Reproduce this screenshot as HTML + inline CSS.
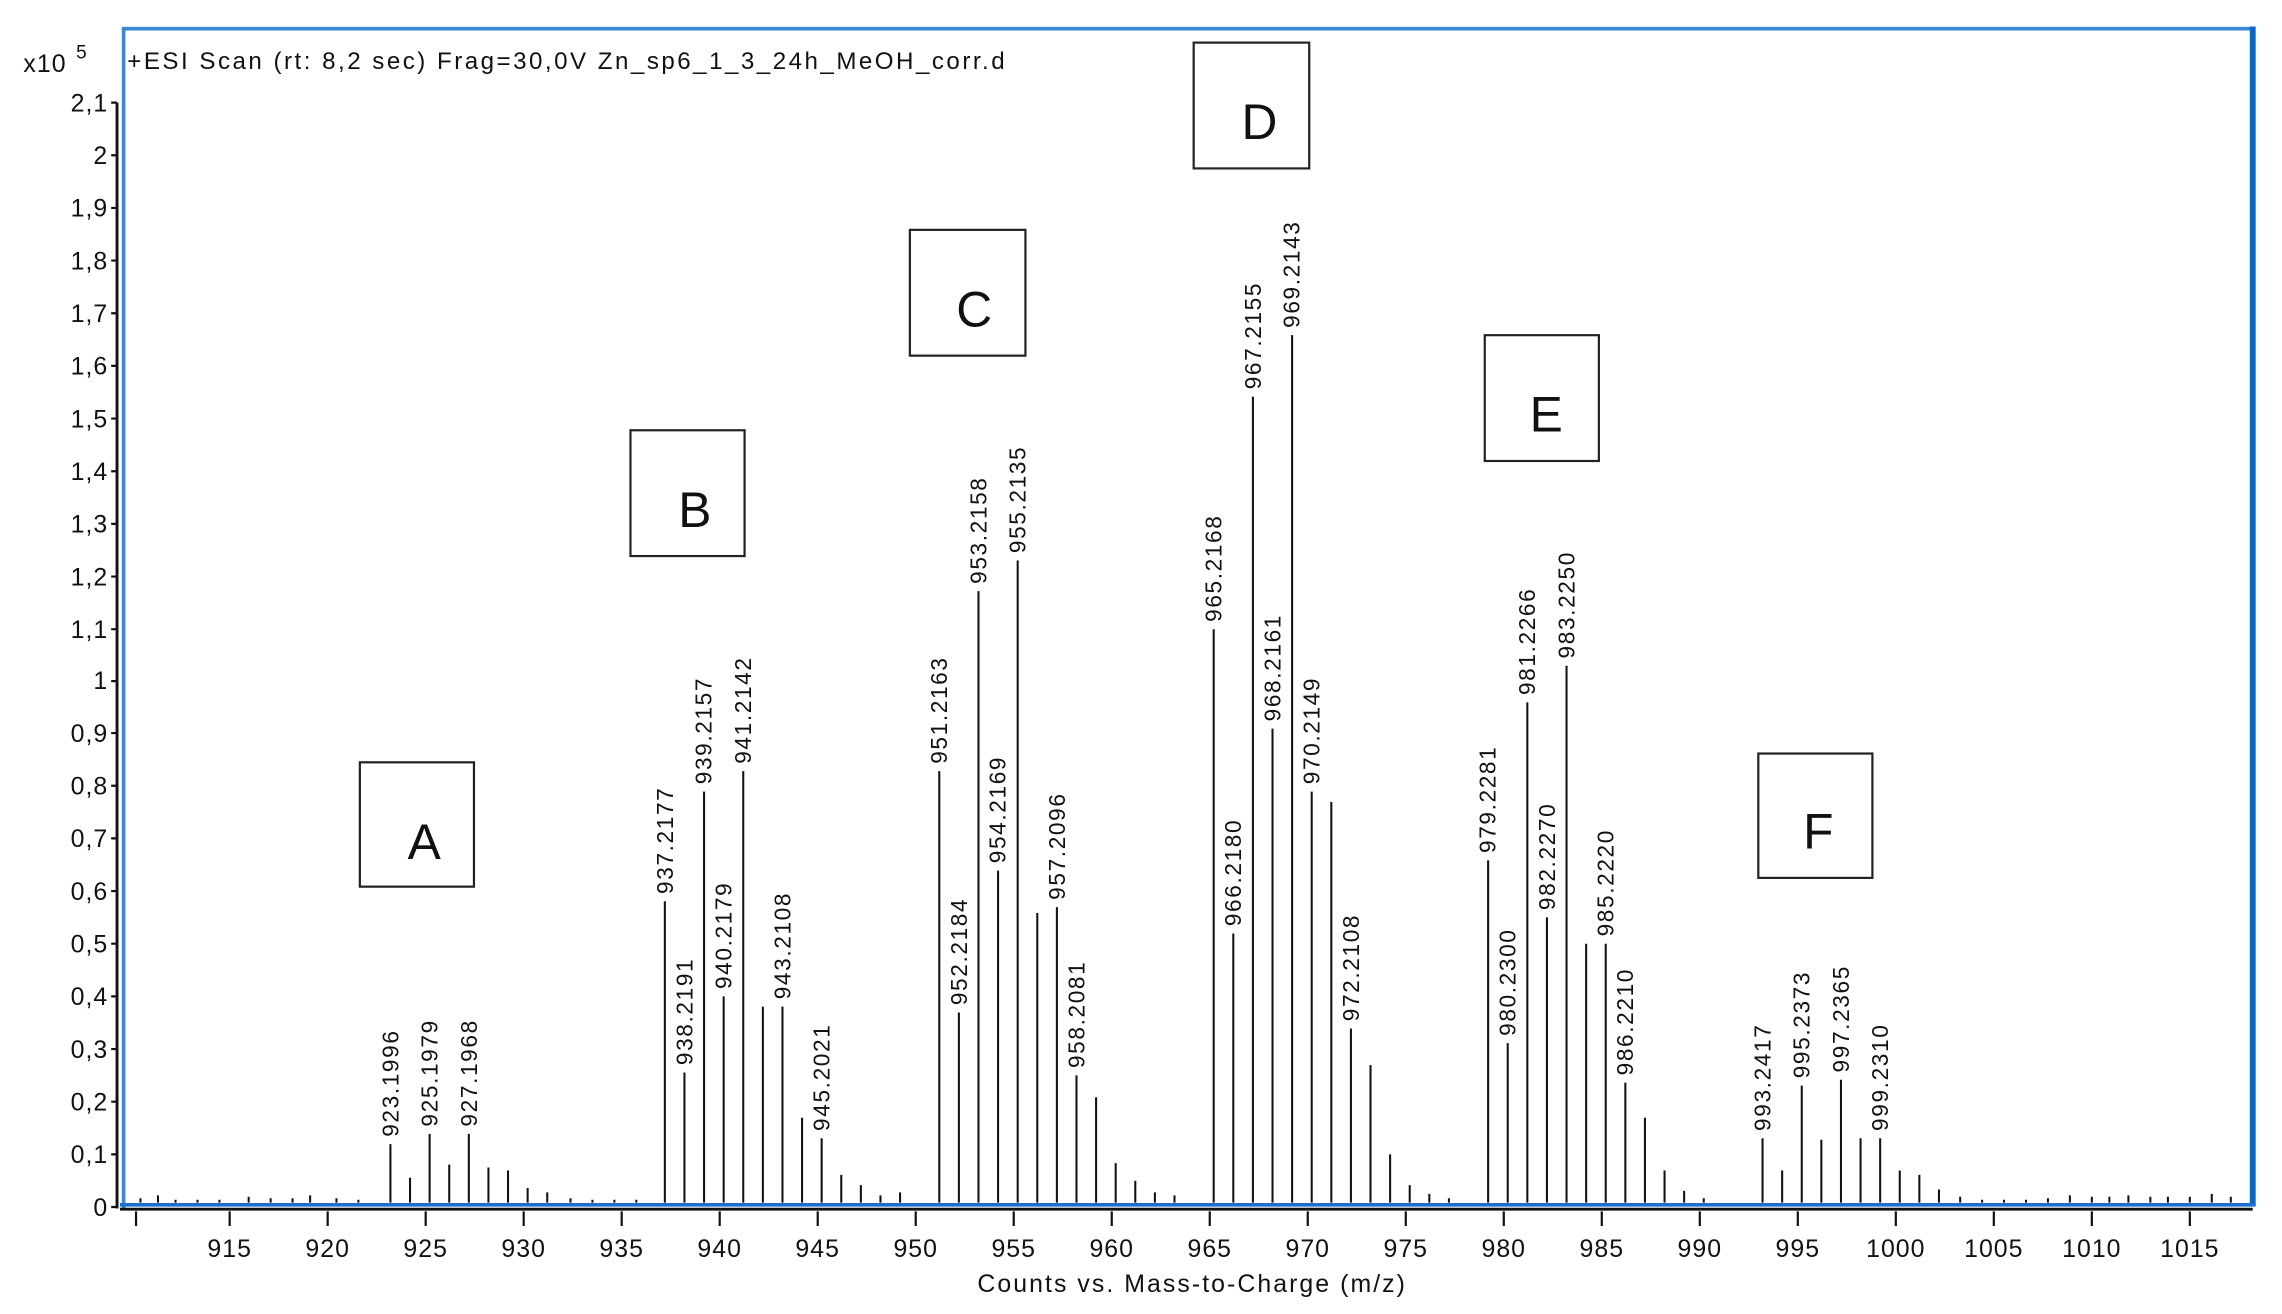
<!DOCTYPE html>
<html><head><meta charset="utf-8"><style>
html,body{margin:0;padding:0;background:#fff;}
svg{display:block;}
text{font-family:"Liberation Sans",sans-serif;fill:#111;}
.pl{font-size:15.5px;letter-spacing:1.1px;}
.tk{font-size:17px;letter-spacing:0.7px;}
.bx{fill:none;stroke:#222;stroke-width:1.5;}
.bl{font-family:"Liberation Sans",sans-serif;font-size:34px;letter-spacing:0;}
</style></head><body>
<svg width="2282" height="1314" viewBox="0 0 1560 898" xmlns="http://www.w3.org/2000/svg">
<rect width="1560" height="898" fill="#fff"/>
<path d="M84.5 826 V19.5 H1540" fill="none" stroke="#3a86d8" stroke-width="2.5"/>
<path d="M1540 18 V824" stroke="#0a66cc" stroke-width="4"/>
<path d="M82 823.5 H1542" stroke="#1a6fd0" stroke-width="2.5"/>
<path d="M82 826.5 H1540" stroke="#111" stroke-width="2"/>
<path d="M80 70 V826" stroke="#111" stroke-width="2"/>
<g stroke="#111" stroke-width="1.5">
<path d="M76 825H80M76 789H80M76 753H80M76 717H80M76 681H80M76 645H80M76 609H80M76 573H80M76 537H80M76 501H80M76 465.5H80M76 430H80M76 394H80M76 358H80M76 322H80M76 286H80M76 250H80M76 214H80M76 178H80M76 142H80M76 106H80M76 70H80"/>
</g>
<g class="tk" text-anchor="end">
<text x="74" y="831">0</text><text x="74" y="795">0,1</text><text x="74" y="759">0,2</text><text x="74" y="723">0,3</text><text x="74" y="687">0,4</text><text x="74" y="651">0,5</text><text x="74" y="615">0,6</text><text x="74" y="579">0,7</text><text x="74" y="543">0,8</text><text x="74" y="507">0,9</text><text x="74" y="471">1</text><text x="74" y="436">1,1</text><text x="74" y="400">1,2</text><text x="74" y="364">1,3</text><text x="74" y="328">1,4</text><text x="74" y="292">1,5</text><text x="74" y="256">1,6</text><text x="74" y="220">1,7</text><text x="74" y="184">1,8</text><text x="74" y="148">1,9</text><text x="74" y="112">2</text><text x="74" y="76">2,1</text>
</g>
<text x="16" y="49" class="tk">x10</text><text x="52" y="40" style="font-size:13px">5</text>
<text x="87" y="47" style="font-size:16.5px;letter-spacing:1.7px">+ESI Scan (rt: 8,2 sec) Frag=30,0V Zn_sp6_1_3_24h_MeOH_corr.d</text>
<g stroke="#111" stroke-width="1.5">
<path d="M93 828V838M157 828V838M224 828V838M291 828V838M358 828V838M425 828V838M492 828V838M559 828V838M626 828V838M693 828V838M760 828V838M827 828V838M894 828V838M961 828V838M1028 828V838M1095 828V838M1162 828V838M1229 828V838M1296 828V838M1363 828V838M1430 828V838M1497 828V838"/>
</g>
<g class="tk" text-anchor="middle">
<text x="157" y="859">915</text><text x="224" y="859">920</text><text x="291" y="859">925</text><text x="358" y="859">930</text><text x="425" y="859">935</text><text x="492" y="859">940</text><text x="559" y="859">945</text><text x="626" y="859">950</text><text x="693" y="859">955</text><text x="760" y="859">960</text><text x="827" y="859">965</text><text x="894" y="859">970</text><text x="961" y="859">975</text><text x="1028" y="859">980</text><text x="1095" y="859">985</text><text x="1162" y="859">990</text><text x="1229" y="859">995</text><text x="1296" y="859">1000</text><text x="1363" y="859">1005</text><text x="1430" y="859">1010</text><text x="1497" y="859">1015</text>
</g>
<text x="815" y="883" text-anchor="middle" style="font-size:17px;letter-spacing:1.4px">Counts vs. Mass-to-Charge (m/z)</text>
<g stroke="#111" stroke-width="1.4">
<path d="M266.9 822V782M280.3 822V805M293.7 822V775M307.1 822V796M320.5 822V775M333.9 822V798M347.3 822V800M360.7 822V812M374.1 822V815"/>
<path d="M454.5 822V616M467.9 822V733M481.3 822V541M494.7 822V681M508.1 822V527M521.5 822V688M534.9 822V688M548.3 822V764M561.7 822V778M575.1 822V803M588.5 822V810M601.9 822V817M615.3 822V815"/>
<path d="M642.1 822V527M655.5 822V692M668.9 822V404M682.3 822V595M695.7 822V383M709.1 822V624M722.5 822V620M735.9 822V735M749.3 822V750M762.7 822V795M776.1 822V807M789.5 822V815M802.9 822V817"/>
<path d="M829.7 822V430M843.1 822V638M856.5 822V271M869.9 822V498M883.3 822V229M896.7 822V541M910.1 822V548M923.5 822V703M936.9 822V728M950.3 822V789M963.7 822V810M977.1 822V816M990.5 822V819"/>
<path d="M1017.3 822V588M1030.7 822V713M1044.1 822V480M1057.5 822V627M1070.9 822V455M1084.3 822V645M1097.7 822V645M1111.1 822V740M1124.5 822V764M1137.9 822V800M1151.3 822V814M1164.7 822V819"/>
<path d="M1204.9 822V778M1218.3 822V800M1231.7 822V742M1245.1 822V779M1258.5 822V738M1271.9 822V778M1285.3 822V778M1298.7 822V800M1312.1 822V803M1325.5 822V813"/>
<path d="M96 822V819M108 822V817M120 822V820M135 822V820M150 822V820M170 822V818M185 822V819M200 822V819M212 822V817M230 822V819M245 822V820M390 822V819M405 822V820M420 822V820M435 822V820M1340 822V818M1355 822V820M1370 822V820M1385 822V820M1400 822V819M1415 822V817M1430 822V818M1442 822V818M1455 822V817M1470 822V818M1482 822V818M1497 822V818M1512 822V816M1525 822V818"/>
</g>
<g class="pl">
<text transform="translate(272.5,777) rotate(-90)">923.1996</text>
<text transform="translate(299,770) rotate(-90)">925.1979</text>
<text transform="translate(326,770) rotate(-90)">927.1968</text>
<text transform="translate(460,611) rotate(-90)">937.2177</text>
<text transform="translate(473.5,728) rotate(-90)">938.2191</text>
<text transform="translate(486.5,536) rotate(-90)">939.2157</text>
<text transform="translate(500,676) rotate(-90)">940.2179</text>
<text transform="translate(513.5,522) rotate(-90)">941.2142</text>
<text transform="translate(540.5,683) rotate(-90)">943.2108</text>
<text transform="translate(567,773) rotate(-90)">945.2021</text>
<text transform="translate(647.5,522) rotate(-90)">951.2163</text>
<text transform="translate(661,687) rotate(-90)">952.2184</text>
<text transform="translate(674.5,399) rotate(-90)">953.2158</text>
<text transform="translate(687.5,590) rotate(-90)">954.2169</text>
<text transform="translate(701,378) rotate(-90)">955.2135</text>
<text transform="translate(728,615) rotate(-90)">957.2096</text>
<text transform="translate(741.5,730) rotate(-90)">958.2081</text>
<text transform="translate(835,425) rotate(-90)">965.2168</text>
<text transform="translate(848.5,633) rotate(-90)">966.2180</text>
<text transform="translate(862,266) rotate(-90)">967.2155</text>
<text transform="translate(875.5,493) rotate(-90)">968.2161</text>
<text transform="translate(888.5,224) rotate(-90)">969.2143</text>
<text transform="translate(902,536) rotate(-90)">970.2149</text>
<text transform="translate(929,698) rotate(-90)">972.2108</text>
<text transform="translate(1022.5,583) rotate(-90)">979.2281</text>
<text transform="translate(1036,708) rotate(-90)">980.2300</text>
<text transform="translate(1049.5,475) rotate(-90)">981.2266</text>
<text transform="translate(1063,622) rotate(-90)">982.2270</text>
<text transform="translate(1076.5,450) rotate(-90)">983.2250</text>
<text transform="translate(1103,640) rotate(-90)">985.2220</text>
<text transform="translate(1116.5,735) rotate(-90)">986.2210</text>
<text transform="translate(1210.5,773) rotate(-90)">993.2417</text>
<text transform="translate(1237,737) rotate(-90)">995.2373</text>
<text transform="translate(1264,733) rotate(-90)">997.2365</text>
<text transform="translate(1290.5,773) rotate(-90)">999.2310</text>
</g>
<rect class="bx" x="246" y="521" width="78" height="85"/><text class="bl" x="290" y="587" text-anchor="middle">A</text>
<rect class="bx" x="431" y="294" width="78" height="86"/><text class="bl" x="475" y="360" text-anchor="middle">B</text>
<rect class="bx" x="622" y="157" width="79" height="86"/><text class="bl" x="666" y="223" text-anchor="middle">C</text>
<rect class="bx" x="816" y="29" width="79" height="86"/><text class="bl" x="861" y="95" text-anchor="middle">D</text>
<rect class="bx" x="1015" y="229" width="78" height="86"/><text class="bl" x="1057" y="295" text-anchor="middle">E</text>
<rect class="bx" x="1202" y="515" width="78" height="85"/><text class="bl" x="1243" y="580" text-anchor="middle">F</text>
</svg>
</body></html>
